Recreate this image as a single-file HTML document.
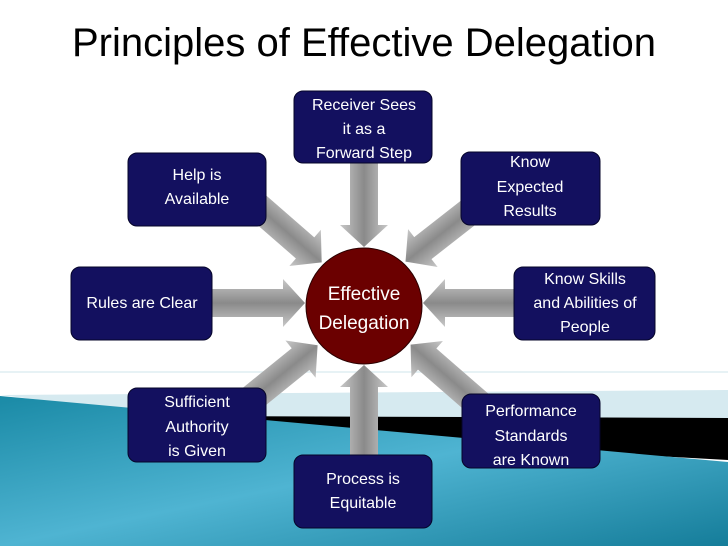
<!DOCTYPE html>
<html><head><meta charset="utf-8"><style>
body{margin:0;width:728px;height:546px;overflow:hidden;background:#fff;font-family:"Liberation Sans",sans-serif}
</style></head><body>
<svg width="728" height="546" viewBox="0 0 728 546" xmlns="http://www.w3.org/2000/svg">
<defs>
<linearGradient id="sea" x1="0" y1="0" x2="1" y2="1">
<stop offset="0" stop-color="#1a8aa6"/><stop offset="0.5" stop-color="#4fb4d2"/><stop offset="1" stop-color="#157d9a"/>
</linearGradient>
<linearGradient id="ag" x1="0" y1="0" x2="0" y2="1">
<stop offset="0" stop-color="#c8c8c8"/><stop offset="0.5" stop-color="#8a8a8a"/><stop offset="1" stop-color="#c8c8c8"/>
</linearGradient>
<linearGradient id="al" x1="0" y1="0" x2="1" y2="0">
<stop offset="0" stop-color="#777" stop-opacity="0.9"/><stop offset="1" stop-color="#bbb" stop-opacity="0.8"/>
</linearGradient>
</defs>
<line x1="0" y1="372" x2="728" y2="372" stroke="#dfeef2" stroke-width="1.5"/>
<polygon points="0,395 728,390 728,420 190,418" fill="#d6eaf0"/>
<polygon points="190,416 728,418 728,460 190,430" fill="#000"/>
<polygon points="0,396 728,462 728,546 0,546" fill="url(#sea)"/>
<text x="364" y="56" text-anchor="middle" font-size="40" fill="#000" font-family="Liberation Sans,sans-serif">Principles of Effective Delegation</text>
<g fill="url(#ag)">
<g transform="translate(364,163) rotate(90)"><polygon points="0,-14 62,-14 62,-24 84,0 62,24 62,14 0,14"/></g>
<g transform="translate(364,455) rotate(-90)"><polygon points="0,-14 68,-14 68,-24 90,0 68,24 68,14 0,14"/></g>
<g transform="translate(212,303) rotate(0)"><polygon points="0,-14 71,-14 71,-24 93,0 71,24 71,14 0,14"/></g>
<g transform="translate(514,303) rotate(180)"><polygon points="0,-14 69,-14 69,-24 91,0 69,24 69,14 0,14"/></g>
<g transform="translate(250,200) rotate(41)"><polygon points="0,-14 73,-14 73,-24 95,0 73,24 73,14 0,14"/></g>
<g transform="translate(478,205) rotate(142)"><polygon points="0,-14 70,-14 70,-24 92,0 70,24 70,14 0,14"/></g>
<g transform="translate(250,400) rotate(-39)"><polygon points="0,-14 65,-14 65,-24 87,0 65,24 65,14 0,14"/></g>
<g transform="translate(480,405) rotate(-139)"><polygon points="0,-14 70,-14 70,-24 92,0 70,24 70,14 0,14"/></g>
</g>
<circle cx="364" cy="306" r="58" fill="#6b0000" stroke="#2a0000" stroke-width="1"/>
<g font-size="19" fill="#fff" text-anchor="middle">
<text x="364" y="300">Effective</text><text x="364" y="329">Delegation</text>
</g>
<g fill="#13105f" stroke="#06052a" stroke-width="1">
<rect x="294" y="91" width="138" height="72" rx="9"/>
<rect x="128" y="153" width="138" height="73" rx="9"/>
<rect x="461" y="152" width="139" height="73" rx="9"/>
<rect x="71" y="267" width="141" height="73" rx="9"/>
<rect x="514" y="267" width="141" height="73" rx="9"/>
<rect x="128" y="388" width="138" height="74" rx="9"/>
<rect x="462" y="394" width="138" height="74" rx="9"/>
<rect x="294" y="455" width="138" height="73" rx="9"/>
</g>
<g font-size="16" fill="#fff" text-anchor="middle">
<text x="364" y="110">Receiver Sees</text><text x="364" y="134">it as a</text><text x="364" y="158">Forward Step</text>
<text x="197" y="180">Help is</text><text x="197" y="204">Available</text>
<text x="530" y="167">Know</text><text x="530" y="192">Expected</text><text x="530" y="216">Results</text>
<text x="142" y="308">Rules are Clear</text>
<text x="585" y="284">Know Skills</text><text x="585" y="308">and Abilities of</text><text x="585" y="332">People</text>
<text x="197" y="407">Sufficient</text><text x="197" y="432">Authority</text><text x="197" y="456">is Given</text>
<text x="531" y="416">Performance</text><text x="531" y="441">Standards</text><text x="531" y="465">are Known</text>
<text x="363" y="484">Process is</text><text x="363" y="508">Equitable</text>
</g>
</svg>
</body></html>
